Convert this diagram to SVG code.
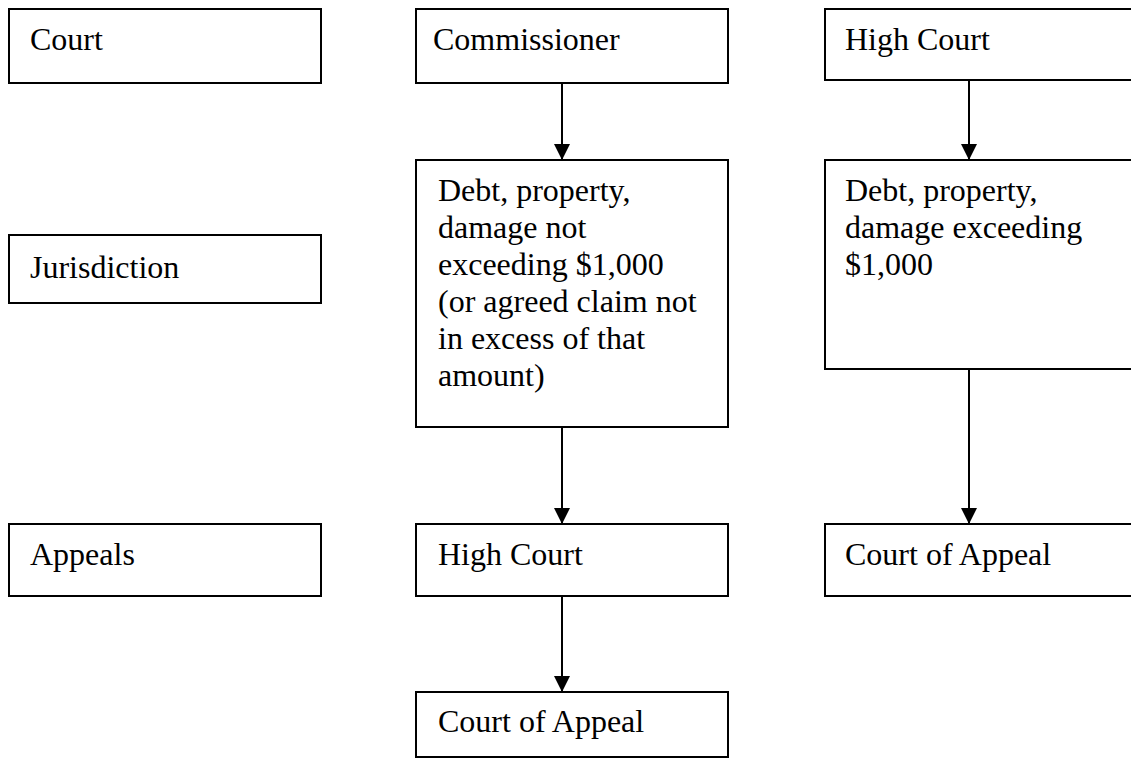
<svg xmlns="http://www.w3.org/2000/svg" width="1131" height="760" viewBox="0 0 1131 760">
<style>
.box{fill:#fff;stroke:#000;stroke-width:2}
.t{font-family:"Liberation Serif","Times New Roman",serif;font-size:32px;fill:#000}
.c{stroke:#000;stroke-width:2;fill:none}
</style>
<defs>
<marker id="ah" markerUnits="userSpaceOnUse" markerWidth="16" markerHeight="18" refX="16" refY="8" orient="auto">
<path d="M0,0 L16,8 L0,16 Z" fill="#000"/>
</marker>
</defs>
<rect width="1131" height="760" fill="#fff"/>
<g id="connectors">
<line class="c" x1="562" y1="83" x2="562" y2="160" marker-end="url(#ah)"/>
<line class="c" x1="969" y1="80" x2="969" y2="160" marker-end="url(#ah)"/>
<line class="c" x1="562" y1="427" x2="562" y2="524" marker-end="url(#ah)"/>
<line class="c" x1="969" y1="369" x2="969" y2="524" marker-end="url(#ah)"/>
<line class="c" x1="562" y1="596" x2="562" y2="692" marker-end="url(#ah)"/>
</g>
<g id="label-court"><rect class="box" x="9" y="9" width="312" height="74"/><text class="t" x="30" y="50">Court</text></g>
<g id="commissioner"><rect class="box" x="416" y="9" width="312" height="74"/><text class="t" x="433" y="50">Commissioner</text></g>
<g id="high-court-top"><rect class="box" x="825" y="9" width="312" height="71"/><text class="t" x="845" y="50">High Court</text></g>
<g id="label-jurisdiction"><rect class="box" x="9" y="235" width="312" height="68"/><text class="t" x="30" y="278">Jurisdiction</text></g>
<g id="juris-commissioner"><rect class="box" x="416" y="160" width="312" height="267"/><text class="t" x="438" y="201"><tspan x="438">Debt, property,</tspan><tspan x="438" dy="37">damage not</tspan><tspan x="438" dy="37">exceeding $1,000</tspan><tspan x="438" dy="37">(or agreed claim not</tspan><tspan x="438" dy="37">in excess of that</tspan><tspan x="438" dy="37">amount)</tspan></text></g>
<g id="juris-high-court"><rect class="box" x="825" y="160" width="312" height="209"/><text class="t" x="845" y="201"><tspan x="845">Debt, property,</tspan><tspan x="845" dy="37">damage exceeding</tspan><tspan x="845" dy="37">$1,000</tspan></text></g>
<g id="label-appeals"><rect class="box" x="9" y="524" width="312" height="72"/><text class="t" x="30" y="565">Appeals</text></g>
<g id="appeal-high-court"><rect class="box" x="416" y="524" width="312" height="72"/><text class="t" x="438" y="565">High Court</text></g>
<g id="appeal-court-of-appeal-right"><rect class="box" x="825" y="524" width="312" height="72"/><text class="t" x="845" y="565">Court of Appeal</text></g>
<g id="court-of-appeal-bottom"><rect class="box" x="416" y="692" width="312" height="65"/><text class="t" x="438" y="732">Court of Appeal</text></g>
</svg>
